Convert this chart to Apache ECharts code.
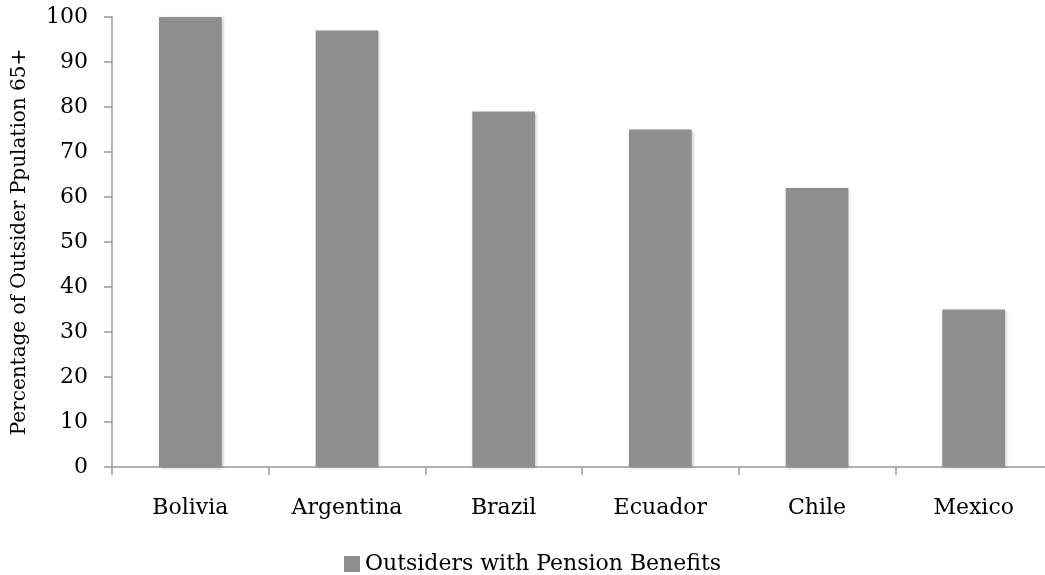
<!DOCTYPE html>
<html>
<head>
<meta charset="utf-8">
<script src="https://cdn.jsdelivr.net/npm/echarts@6/dist/echarts.min.js"></script>
<style>
    html, body { margin: 0; padding: 0; background: #fff; }
    #chart { width: 1045px; height: 575px; }
</style>
</head>
<body>
<div id="chart"></div>
<script>
var countries = ['Bolivia', 'Argentina', 'Brazil', 'Ecuador', 'Chile', 'Mexico'];
var pensionShare = [100, 97, 79, 75, 62, 35];
var seriesName = 'Outsiders with Pension Benefits';

var font = '"DejaVu Serif", "Liberation Serif", serif';
var myChart = echarts.init(document.getElementById('chart'));

var option = {
    animation: false,
    textStyle: {fontFamily: font, color: '#000'},
    grid: {
        left: 112,
        top: 17,
        width: 940,
        height: 450,
        outerBoundsMode: 'none'
    },
    legend: {
        data: [{name: seriesName, icon: 'rect'}],
        top: 548,
        left: 339,
        itemWidth: 16,
        itemHeight: 16,
        itemGap: 5,
        itemStyle: {shadowBlur: 0, shadowOffsetX: 0, shadowOffsetY: 0},
        textStyle: {fontFamily: font, fontSize: 22, color: '#000'}
    },
    xAxis: {
        type: 'category',
        data: countries,
        axisLine: {lineStyle: {color: '#999', width: 1.5}},
        axisTick: {show: true, length: 8, lineStyle: {color: '#999', width: 1.5}},
        axisLabel: {fontFamily: font, fontSize: 22, color: '#000', margin: 30}
    },
    yAxis: {
        type: 'value',
        min: 0,
        max: 100,
        interval: 10,
        name: 'Percentage of Outsider Ppulation 65+',
        nameLocation: 'middle',
        nameGap: 82,
        nameTextStyle: {fontFamily: font, fontSize: 20, color: '#000'},
        splitLine: {show: false},
        axisLine: {show: true, lineStyle: {color: '#999', width: 1.5}},
        axisTick: {show: true, length: 8, lineStyle: {color: '#999', width: 1.5}},
        axisLabel: {fontFamily: font, fontSize: 22, color: '#000', margin: 24}
    },
    series: [{
        name: seriesName,
        type: 'bar',
        data: pensionShare,
        barWidth: '40%',
        itemStyle: {
            color: '#8e8e8e',
            shadowColor: 'rgba(0,0,0,0.25)',
            shadowBlur: 3,
            shadowOffsetX: 1,
            shadowOffsetY: 1
        }
    }]
};
myChart.setOption(option);
</script>
</body>
</html>
